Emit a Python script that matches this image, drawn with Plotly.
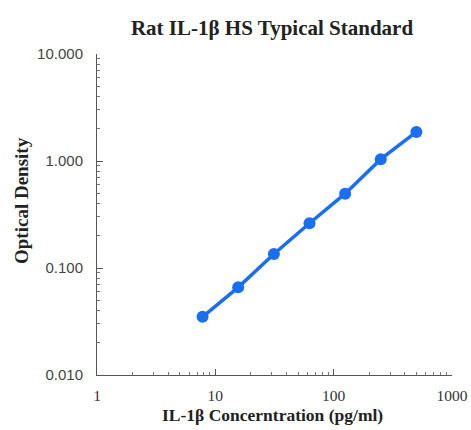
import plotly.graph_objects as go

concentration = [7.8, 15.6, 31.25, 62.5, 125, 250, 500]
optical_density = [0.035, 0.066, 0.135, 0.262, 0.495, 1.04, 1.87]

x_tickvals = [1, 10, 100, 1000]
x_ticktext = ["1", "10", "100", "1000"]
y_tickvals = [0.01, 0.1, 1, 10]
y_ticktext = ["0.010", "0.100", "1.000", "10.000"]
x_minor = [m * 10 ** d for d in range(0, 3) for m in range(2, 10)]
y_minor = [m * 10.0 ** d for d in range(-2, 1) for m in range(2, 10)]

W, H = 471, 430
L, R, T, B = 97, 19, 54, 55
PW, PH = W - L - R, H - T - B

fig = go.Figure()
fig.add_trace(go.Scatter(
    x=concentration, y=optical_density, mode="lines+markers",
    line=dict(color="#1a6ef0", width=3.5),
    marker=dict(color="#1a6ef0", size=12),
    showlegend=False,
))

fig.update_layout(
    width=W, height=H,
    margin=dict(l=L, r=R, t=T, b=B, autoexpand=False),
    paper_bgcolor="white", plot_bgcolor="white",
    title=dict(text="<b>Rat IL-1β HS Typical Standard</b>", x=272 / W, xanchor="center",
               y=1 - 28 / H, yanchor="middle",
               font=dict(family="Liberation Serif", size=21, color="#222")),
    font=dict(family="Liberation Sans", size=15, color="#444"),
    annotations=[
        dict(text="<b>IL-1β Concerntration (pg/ml)</b>", xref="paper", yref="paper",
             x=(272 - L) / PW, y=-(415 - (T + PH)) / PH, xanchor="center", yanchor="middle",
             showarrow=False, font=dict(family="Liberation Serif", size=17.5, color="#222")),
        dict(text="<b>Optical Density</b>", xref="paper", yref="paper",
             x=-(L - 21) / PW, y=(T + PH - 201) / PH, xanchor="center", yanchor="middle",
             textangle=-90, showarrow=False,
             font=dict(family="Liberation Serif", size=19, color="#222")),
    ],
)
fig.update_xaxes(
    type="log", range=[0, 3], automargin=False,
    tickvals=x_tickvals, ticktext=x_ticktext,
    tickfont=dict(family="Liberation Serif", size=15.5, color="#333"),
    showline=True, linecolor="#555", linewidth=1, mirror=False,
    ticks="inside", ticklen=6, tickcolor="#555",
    minor=dict(ticks="inside", ticklen=3, tickcolor="#777", showgrid=False,
               tickmode="array", tickvals=x_minor),
    showgrid=False, zeroline=False,
    ticklabelstandoff=6,
)
fig.update_yaxes(
    type="log", range=[-2, 1], automargin=False,
    tickvals=y_tickvals, ticktext=y_ticktext,
    showline=True, linecolor="#555", linewidth=1, mirror=False,
    ticks="inside", ticklen=6, tickcolor="#555",
    minor=dict(ticks="inside", ticklen=3, tickcolor="#777", showgrid=False,
               tickmode="array", tickvals=y_minor),
    showgrid=False, zeroline=False,
    ticklabelstandoff=10,
)

fig.write_html("out.html", config={"displayModeBar": False},
               post_script="document.body.style.margin='0';document.body.style.overflow='hidden';")
